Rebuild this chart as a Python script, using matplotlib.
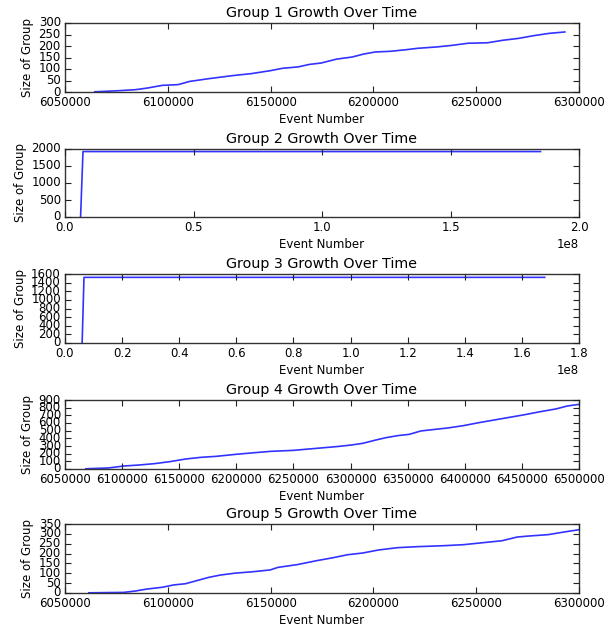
import matplotlib
matplotlib.use("Agg")
import matplotlib.pyplot as plt
import numpy as np

plt.style.use("classic")

# Cumulative group sizes versus event number
g1_events = [6064500, 6074800, 6084200, 6089900, 6097400, 6105000, 6110600, 6120000,
             6131300, 6140700, 6150100, 6155700, 6163300, 6168900, 6174600, 6182100,
             6189600, 6195300, 6200900, 6208400, 6216000, 6221600, 6231000, 6238500,
             6246000, 6255500, 6263000, 6270500, 6278000, 6285500, 6293100]
g1_sizes = [1, 5, 10, 17, 29, 32, 46, 58, 71, 80, 93, 103, 109, 120, 126, 143,
            152, 165, 174, 177, 184, 190, 196, 203, 212, 214, 225, 233, 245, 255, 261]

g2_events = [6060000, 7000000, 185000000]
g2_sizes = [0, 1925, 1925]

g3_events = [6000000, 6650000, 168000000]
g3_sizes = [0, 1522, 1522]

g4_events = [6068200, 6087800, 6101400, 6114900, 6128400, 6141900, 6155400, 6168900,
             6182400, 6199300, 6216200, 6229700, 6250000, 6263500, 6277000, 6290500,
             6300700, 6310800, 6321000, 6331100, 6341200, 6351400, 6361500, 6371600,
             6385100, 6398600, 6412200, 6425700, 6439200, 6452700, 6466200, 6479700,
             6489800, 6500000]
g4_sizes = [3, 13, 39, 52, 70, 96, 130, 152, 165, 191, 213, 230, 243, 261, 278, 296,
            313, 335, 374, 409, 435, 452, 496, 513, 535, 565, 604, 639, 674, 709, 748,
            783, 822, 843]

g5_events = [6061600, 6078500, 6084200, 6089800, 6097300, 6102900, 6108600, 6114200,
             6119800, 6125500, 6133000, 6140500, 6149800, 6153600, 6163000, 6172400,
             6179900, 6187400, 6194900, 6202400, 6211800, 6221200, 6234300, 6243700,
             6253100, 6262500, 6270000, 6275600, 6285000, 6292500, 6300000]
g5_sizes = [1, 3, 10, 20, 29, 41, 47, 63, 79, 91, 101, 107, 117, 130, 144, 164,
            178, 194, 203, 218, 230, 235, 240, 245, 255, 265, 284, 289, 296, 309, 321]

titles = ["Group 1 Growth Over Time", "Group 2 Growth Over Time",
          "Group 3 Growth Over Time", "Group 4 Growth Over Time",
          "Group 5 Growth Over Time"]

x_limits = [(6050000, 6300000), (0, 2.0e8), (0, 1.8e8), (6050000, 6500000), (6050000, 6300000)]
x_steps = [50000, 0.5e8, 0.2e8, 50000, 50000]
y_limits = [(0, 300), (0, 2000), (0, 1600), (0, 900), (0, 350)]
y_steps = [50, 500, 200, 100, 50]

series = [(g1_events, g1_sizes), (g2_events, g2_sizes), (g3_events, g3_sizes),
          (g4_events, g4_sizes), (g5_events, g5_sizes)]

W, H = 605, 631
fig = plt.figure(figsize=(W / 100, H / 100), dpi=100, facecolor="white")

# axes boxes in pixels: (top, bottom)
boxes = [(23, 92), (149, 217), (274, 343), (400, 469), (524, 593)]
left_px, right_px = 65, 579

tick_fs = 8.5
for i, ((top, bot), (xs, ys)) in enumerate(zip(boxes, series)):
    ax = fig.add_axes([left_px / W, 1 - bot / H, (right_px - left_px) / W, (bot - top) / H])
    ax.set_facecolor("white")
    ax.plot(xs, ys, color=(0, 0, 1), lw=1.2, alpha=0.8)
    ax.set_xlim(*x_limits[i])
    ax.set_ylim(*y_limits[i])
    ax.set_xticks(np.arange(x_limits[i][0], x_limits[i][1] + x_steps[i] / 2, x_steps[i]))
    ax.set_yticks(np.arange(y_limits[i][0], y_limits[i][1] + y_steps[i] / 2, y_steps[i]))
    if i in (1, 2):
        ax.ticklabel_format(axis="x", style="sci", scilimits=(0, 0), useMathText=False)
        ax.xaxis.get_offset_text().set_fontsize(tick_fs)
    else:
        ax.ticklabel_format(axis="x", style="plain", useOffset=False)
    ax.tick_params(labelsize=tick_fs, direction="in", length=4, width=0.8, pad=3,
                   top=True, right=True, colors="#222222", labelcolor="black")
    for s in ax.spines.values():
        s.set_color("#333333")
        s.set_linewidth(1.0)
    ax.set_title(titles[i], fontsize=10.3, pad=4)
    ax.set_xlabel("Event Number", fontsize=tick_fs, labelpad=3)
    ax.set_ylabel("Size of Group", fontsize=tick_fs, labelpad=3)

fig.savefig("out.png", dpi=100, facecolor="white")
